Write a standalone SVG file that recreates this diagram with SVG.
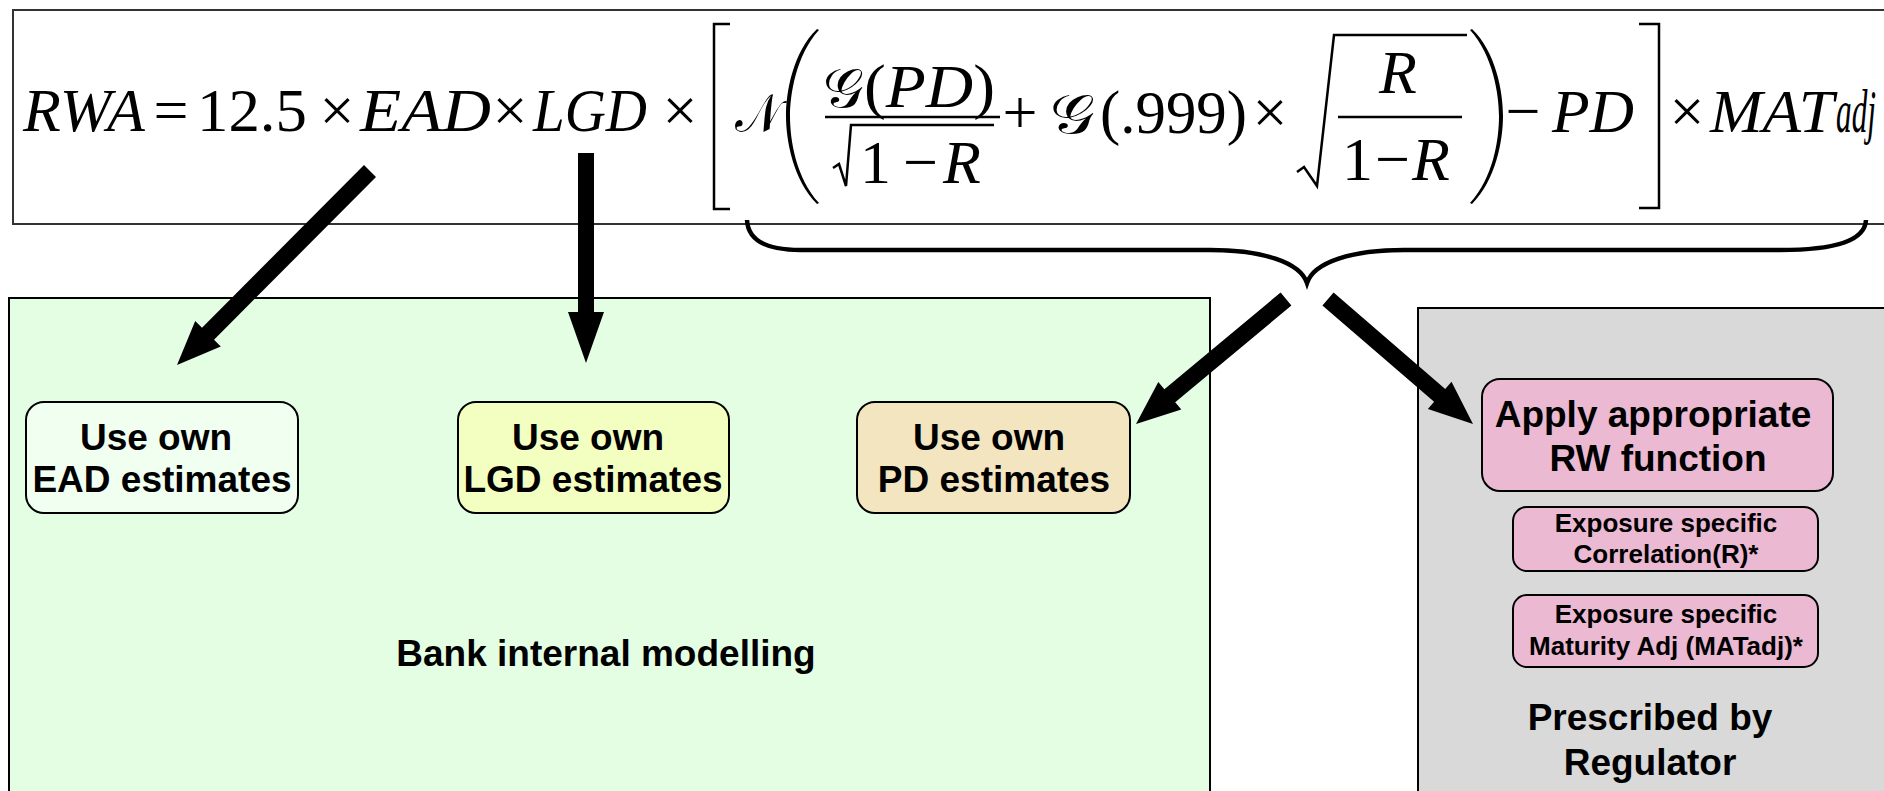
<svg xmlns="http://www.w3.org/2000/svg" width="1884" height="791" viewBox="0 0 1884 791">
<style>
.f{font-family:"Liberation Serif","Times New Roman",serif;font-size:62px;fill:#000}
.i{font-style:italic}
.sc{font-family:"DejaVu Serif","DejaVu Sans","Liberation Serif",serif;font-style:normal;font-size:54px}
.l{fill:none;stroke:#000;stroke-width:2.5}
.t{font-family:"Liberation Sans",Arial,sans-serif;font-weight:bold;font-size:37px;fill:#000;text-anchor:middle}
.s{font-size:26px}
.n{stroke:#000;stroke-width:2}
.a{fill:#000}
</style>
<rect x="13" y="10" width="1890" height="214" fill="#fff" stroke="#333" stroke-width="2"/>
<g id="formula">
<text class="f i" x="23" y="131" textLength="122" lengthAdjust="spacingAndGlyphs">RWA</text>
<text class="f" x="171" y="131" text-anchor="middle">=</text>
<text class="f" x="197" y="131" textLength="110" lengthAdjust="spacingAndGlyphs">12.5</text>
<text class="f" x="337" y="131" text-anchor="middle">×</text>
<text class="f i" x="360" y="131" textLength="131" lengthAdjust="spacingAndGlyphs">EAD</text>
<text class="f" x="510" y="131" text-anchor="middle">×</text>
<text class="f i" x="533" y="131" textLength="114" lengthAdjust="spacingAndGlyphs">LGD</text>
<text class="f" x="680" y="131" text-anchor="middle">×</text>
<path class="l" d="M730,24 H714 V209 H730" stroke-width="3"/>
<text class="f sc" x="735" y="132" textLength="46" lengthAdjust="spacingAndGlyphs">𝒩</text>
<path class="a" d="M819,30 C796,55 790,95 790,116 C790,140 796,178 819,203 L817,204 C793,180 786,140 786,116 C786,92 793,52 817,29 Z"/>
<text class="f sc" x="823" y="107" textLength="40" lengthAdjust="spacingAndGlyphs">𝒢</text>
<text class="f" x="864" y="107" textLength="131" lengthAdjust="spacingAndGlyphs">(<tspan class="i">PD</tspan>)</text>
<line class="l" x1="825" y1="117" x2="1000" y2="117"/>
<path class="l" d="M833,168 L839,164 L846,186 L851,125 H994" stroke-width="2.5"/>
<text class="f" x="860" y="183">1<tspan x="903">−</tspan><tspan class="i" x="943">R</tspan></text>
<text class="f" x="1020" y="133" text-anchor="middle">+</text>
<text class="f sc" x="1050" y="133" textLength="44" lengthAdjust="spacingAndGlyphs">𝒢</text>
<text class="f" x="1100" y="133" textLength="147" lengthAdjust="spacingAndGlyphs">(.999)</text>
<text class="f" x="1270" y="133" text-anchor="middle">×</text>
<path class="l" d="M1297,172 L1304,167 L1317,186 L1334,35 H1467" stroke-width="2.5"/>
<text class="f i" x="1398" y="93" text-anchor="middle">R</text>
<line class="l" x1="1338" y1="117" x2="1462" y2="117"/>
<text class="f" x="1342" y="180">1<tspan x="1375">−</tspan><tspan class="i" x="1412">R</tspan></text>
<path class="a" d="M1470,30 C1493,55 1499,95 1499,116 C1499,140 1493,178 1470,203 L1472,204 C1496,180 1503,140 1503,116 C1503,92 1496,52 1472,29 Z"/>
<text class="f" x="1523" y="132" text-anchor="middle">−</text>
<text class="f i" x="1552" y="132" textLength="82" lengthAdjust="spacingAndGlyphs">PD</text>
<path class="l" d="M1639,24 H1659 V208 H1639" stroke-width="3"/>
<text class="f" x="1687" y="132" text-anchor="middle">×</text>
<text class="f i" x="1710" y="132" textLength="124" lengthAdjust="spacingAndGlyphs">MAT</text>
<text class="f i" x="1836" y="132" font-size="32" textLength="40" lengthAdjust="spacingAndGlyphs">adj</text>
</g>
<path id="brace" d="M747,220 C748,240 765,250 800,250 L1210,250 C1262,250 1300,262 1307,283 C1314,262 1352,250 1404,250 L1780,250 C1838,250 1865,240 1866,220" fill="none" stroke="#000" stroke-width="4.5"/>
<g id="bank">
<rect x="9" y="298" width="1201" height="520" fill="#e3fee3" class="n"/>
<text class="t" x="606" y="666">Bank internal modelling</text>
</g>
<g id="regulator">
<rect x="1418" y="308" width="500" height="520" fill="#d9d9d9" class="n"/>
<text class="t" x="1650" y="730">Prescribed by</text>
<text class="t" x="1650" y="775">Regulator</text>
</g>
<g id="ead">
<rect x="26" y="402" width="272" height="111" rx="18" fill="#f0fff0" class="n"/>
<text class="t" x="156" y="450">Use own</text>
<text class="t" x="162" y="492">EAD estimates</text>
</g>
<g id="lgd">
<rect x="458" y="402" width="271" height="111" rx="18" fill="#f3ffc0" class="n"/>
<text class="t" x="588" y="450">Use own</text>
<text class="t" x="593" y="492">LGD estimates</text>
</g>
<g id="pd">
<rect x="857" y="402" width="273" height="111" rx="18" fill="#f2e5c0" class="n"/>
<text class="t" x="989" y="450">Use own</text>
<text class="t" x="994" y="492">PD estimates</text>
</g>
<g id="apply">
<rect x="1482" y="379" width="351" height="112" rx="18" fill="#ebb9d2" class="n"/>
<text class="t" x="1653" y="427">Apply appropriate</text>
<text class="t" x="1658" y="471">RW function</text>
</g>
<g id="corr">
<rect x="1513" y="507" width="305" height="64" rx="14" fill="#ebb9d2" class="n"/>
<text class="t s" x="1666" y="532">Exposure specific</text>
<text class="t s" x="1666" y="563">Correlation(R)*</text>
</g>
<g id="mat">
<rect x="1513" y="595" width="305" height="72" rx="14" fill="#ebb9d2" class="n"/>
<text class="t s" x="1666" y="623">Exposure specific</text>
<text class="t s" x="1666" y="655">Maturity Adj (MATadj)*</text>
</g>
<g id="connectors">
<polygon class="a" points="364,165 376,177 214,339.8 220.8,346.5 177,365 195.2,321.1 202,327.8"/>
<polygon class="a" points="578,153 594,153 594,312 604,312 586,363 568,312 578,312"/>
<polygon class="a" points="1280.6,292.5 1291.4,305.5 1175.2,402.3 1181.3,409.6 1136,424 1158.3,382 1164.4,389.3"/>
<polygon class="a" points="1333.6,292.6 1322.4,305.4 1434.1,401.7 1427.9,408.9 1473,424 1451.5,381.7 1445.2,388.9"/>
</g>
</svg>
